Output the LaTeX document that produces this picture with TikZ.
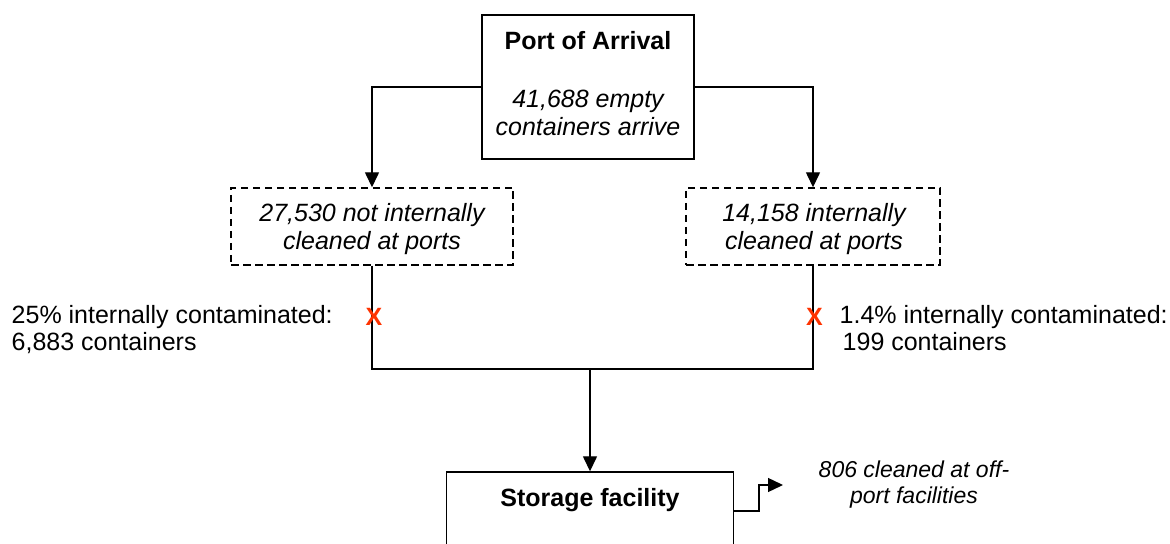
\documentclass[tikz,border=0pt]{standalone}
\usepackage{fontspec}
\setmainfont{Liberation Sans}
\usetikzlibrary{arrows.meta}
\definecolor{xred}{HTML}{FF3300}
\begin{document}
\begin{tikzpicture}[x=1bp,y=-1bp,
  line width=1.4bp,
  arr/.style={-{Triangle[length=15bp,width=14bp]}},
  solidbox/.style={draw,rectangle,inner sep=0pt},
  dashbox/.style={draw,rectangle,inner sep=0pt,dash pattern=on 7.5bp off 4.5bp},
  txt/.style={font=\fontsize{25bp}{28bp}\selectfont,inner sep=0pt,anchor=base},
  txtb/.style={txt,font=\fontsize{25bp}{28bp}\selectfont\bfseries},
  txti/.style={txt,font=\fontsize{25bp}{28bp}\selectfont\itshape},
  txts/.style={txt,font=\fontsize{23bp}{26bp}\selectfont\itshape},
  xmark/.style={txt,font=\fontsize{25bp}{28bp}\selectfont\bfseries,text=xred}
]
\useasboundingbox (0,0) rectangle (1170,544);
\clip (0,0) rectangle (1170,544);

% boxes
\node[solidbox, minimum width=212bp, minimum height=144bp] (port) at (588,87) {};
\node[txtb] (portT) at (588,50) {Port of Arrival};
\node[txti] (portA) at (588,108) {41,688 empty};
\node[txti] (portB) at (588,136) {containers arrive};

\node[dashbox, minimum width=282bp, minimum height=77bp] (nc) at (372,226.5) {};
\node[txti] (ncA) at (372,222) {27,530 not internally};
\node[txti] (ncB) at (372,250) {cleaned at ports};

\node[dashbox, minimum width=254bp, minimum height=77bp] (ic) at (813,226.5) {};
\node[txti] (icA) at (814,222) {14,158 internally};
\node[txti] (icB) at (814,250) {cleaned at ports};

\node[solidbox, minimum width=287bp, minimum height=78bp] (store) at (590,511) {};
\node[txtb] (storeT) at (590,506) {Storage facility};

% connectors
\draw[arr] (port.west) -| (nc.north);
\draw[arr] (port.east) -| (ic.north);
\coordinate (j) at (590,369);
\draw (nc.south) |- (j) -| (ic.south);
\draw[arr] (j) -- (store.north);
\coordinate (bend) at (759,485);
\coordinate (tip) at (783,485);
\draw[arr] (store.east) -| (bend) -- (tip);

% marks and labels
\node[xmark] (x1) at (374,326) {X};
\node[xmark] (x2) at (814.5,326) {X};
\node[txt, anchor=base west] (lA) at (11,324) {25\% internally contaminated:};
\node[txt, anchor=base west] (lB) at (11,351) {6,883 containers};
\node[txt, anchor=base west] (rA) at (839,324) {1.4\% internally contaminated:};
\node[txt, anchor=base west] (rB) at (842,351) {199 containers};
\node[txts] (oA) at (914,477) {806 cleaned at off-};
\node[txts] (oB) at (914,503) {port facilities};
\end{tikzpicture}
\end{document}
